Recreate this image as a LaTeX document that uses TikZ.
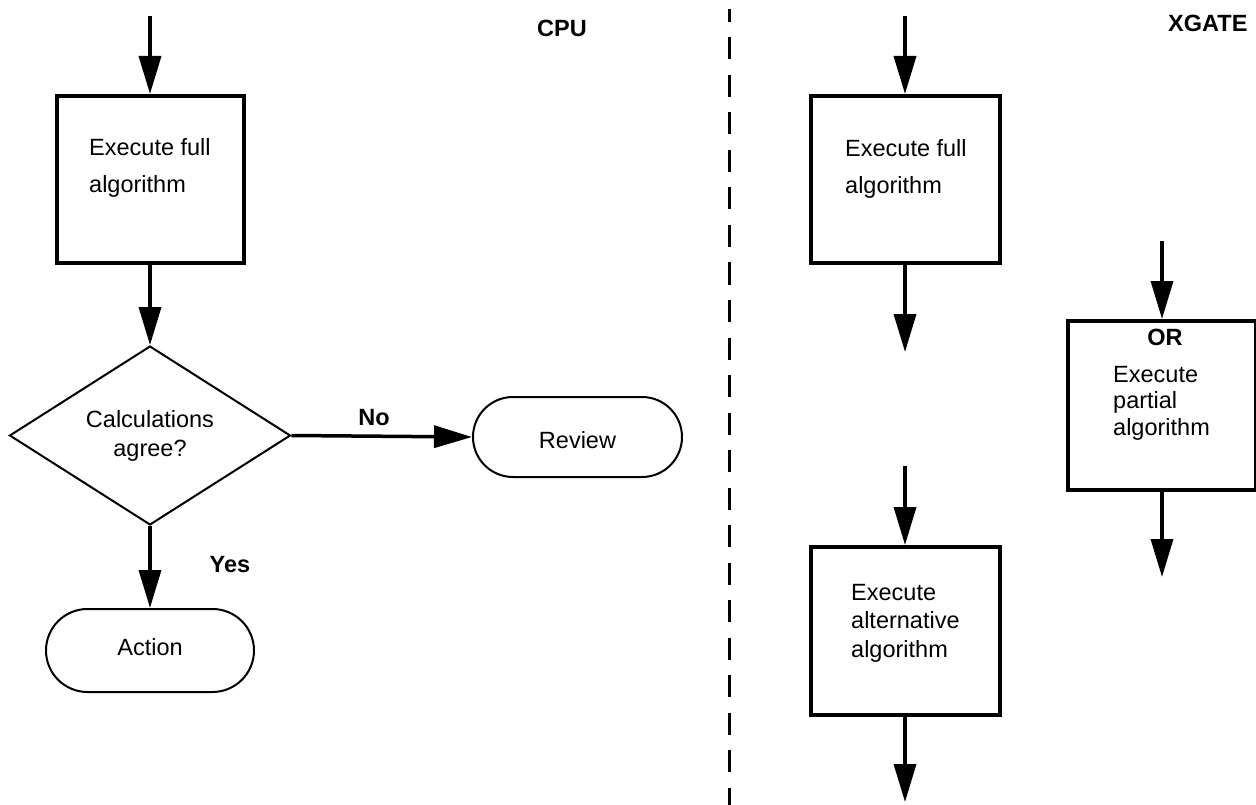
\documentclass[tikz,border=0pt]{standalone}
\usepackage{fontspec}
\setmainfont{Liberation Sans}
\usetikzlibrary{arrows.meta,shapes.geometric}
\begin{document}
\begin{tikzpicture}[x=1pt,y=-1pt,
  proc/.style={draw, line width=4pt, rectangle, inner sep=0pt},
  term/.style={draw, line width=2pt, rectangle, rounded corners=40pt, inner sep=0pt,
    font=\fontsize{23.5}{28}\selectfont},
  decision/.style={draw, line width=2pt, diamond, inner sep=0pt, align=center,
    font=\fontsize{23.5}{29}\selectfont},
  arr/.style={line width=3.5pt, -{Triangle[length=38pt,width=22pt]}},
  lbl/.style={inner sep=0pt, anchor=base, font=\fontsize{23.5}{28}\selectfont\bfseries},
  body/.style={inner sep=0pt, anchor=base west},
  divider/.style={line width=3pt, dash pattern=on 22pt off 15.5pt, dash phase=9pt}
]
\useasboundingbox (0,0) rectangle (1256,805);

% ---------- CPU side ----------
\node[lbl] (cpu) at (562,37) {CPU};
\node[proc, minimum width=187pt, minimum height=167pt] (box1) at (150,179.5) {};
\node[body, font=\fontsize{23.5}{37}\selectfont] (t1) at (89,156)
  {\begin{tabular}[t]{@{}l@{}}Execute full\\algorithm\end{tabular}};
\node[decision, minimum width=281pt, minimum height=173pt] (dec) at (150,435.5)
  {Calculations\\agree?};
\node[term, minimum width=209pt, minimum height=80pt, text height=23pt] (review) at (577.5,437) {Review};
\node[term, minimum width=208pt, minimum height=83pt, rounded corners=41.5pt, text depth=8pt] (action) at (150,650.5) {Action};
\node[lbl] (no) at (374,425) {No};
\node[lbl] (yes) at (230,572) {Yes};

\coordinate (s1) at (150,16);
\draw[arr] (s1) -- (box1.north);
\draw[arr] (box1.south) -- (dec.north);
\draw[arr] (dec.east) -- (review.west);
\draw[arr] (dec.south) -- (action.north);

% ---------- divider ----------
\draw[divider] (729,9) -- (729,805);

% ---------- XGATE side ----------
\node[lbl, anchor=base west] (xgate) at (1168,32) {XGATE};

\node[proc, minimum width=189pt, minimum height=167pt] (box2) at (905,179.5) {};
\node[body, font=\fontsize{23.5}{37}\selectfont] (t2) at (845,157)
  {\begin{tabular}[t]{@{}l@{}}Execute full\\algorithm\end{tabular}};

\node[proc, minimum width=188pt, minimum height=169pt] (box3) at (1162,405.5) {};
\node[lbl] (or) at (1165,345) {OR};
\node[body, font=\fontsize{23.5}{26.5}\selectfont] (t3) at (1113,382)
  {\begin{tabular}[t]{@{}l@{}}Execute\\partial\\algorithm\end{tabular}};

\node[proc, minimum width=189pt, minimum height=168pt] (box4) at (905,631) {};
\node[body, font=\fontsize{23.5}{28.5}\selectfont] (t4) at (851,600)
  {\begin{tabular}[t]{@{}l@{}}Execute\\alternative\\algorithm\end{tabular}};

\coordinate (s2) at (905,16);
\coordinate (e2) at (905,352);
\coordinate (s3) at (1162,241);
\coordinate (e3) at (1162,577);
\coordinate (s4) at (905,466);
\coordinate (e4) at (905,802);

\draw[arr] (s2) -- (box2.north);
\draw[arr] (box2.south) -- (e2);
\draw[arr] (s3) -- (box3.north);
\draw[arr] (box3.south) -- (e3);
\draw[arr] (s4) -- (box4.north);
\draw[arr] (box4.south) -- (e4);
\end{tikzpicture}
\end{document}
